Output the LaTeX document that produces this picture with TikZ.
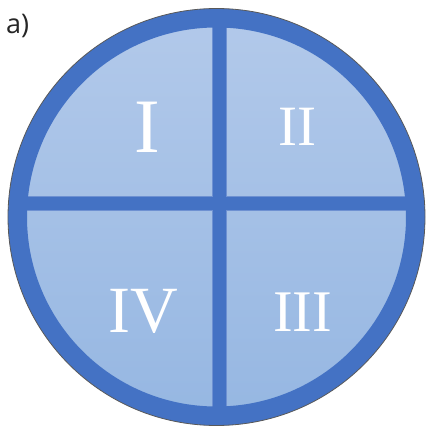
\documentclass[tikz,border=0pt]{standalone}
\usepackage{fontspec}
\setmainfont{Liberation Serif}
\newfontfamily\labfont{Open Sans}
\definecolor{ringblue}{RGB}{68,114,196}
\definecolor{edgeblue}{RGB}{110,145,210}
\definecolor{filltop}{RGB}{178,201,234}
\definecolor{fillbot}{RGB}{150,183,226}
\tikzset{
  numeral/.style={text=white, anchor=base, inner sep=0pt},
}
\begin{document}
\begin{tikzpicture}[x=1pt,y=-1pt]
\useasboundingbox (0,0) rectangle (429,428);
% interior
\shade[top color=filltop, bottom color=fillbot] (216.5,217) circle (199);
% cross bars clipped to circle
\begin{scope}
\clip (216.5,217) circle (199);
\fill[ringblue, draw=edgeblue, line width=0.7pt] (212.3,0) rectangle (226.7,428);
\fill[ringblue, draw=edgeblue, line width=0.7pt] (0,196) rectangle (429,210.5);
\fill[ringblue] (213,195.5) rectangle (226,211);
\end{scope}
% ring
\draw[ringblue, line width=19pt] (216.5,217) circle (199);
\draw[black!65, line width=0.8pt] (216.5,217) circle (208.5);
% labels
\node[numeral, font=\fontsize{77}{77}\selectfont] (q1) at (147,153) {I};
\node[numeral, font=\fontsize{57}{57}\selectfont] (q2) at (297,146) {II};
\node[numeral, font=\fontsize{66}{66}\selectfont] (q4) at (143,332) {IV};
\node[numeral, font=\fontsize{59}{59}\selectfont] (q3) at (302.5,331) {III};
\node[anchor=base west, inner sep=0pt, text=black!85, font=\labfont\fontsize{27}{27}\selectfont] (lab) at (6,34) {a)};
\end{tikzpicture}
\end{document}
